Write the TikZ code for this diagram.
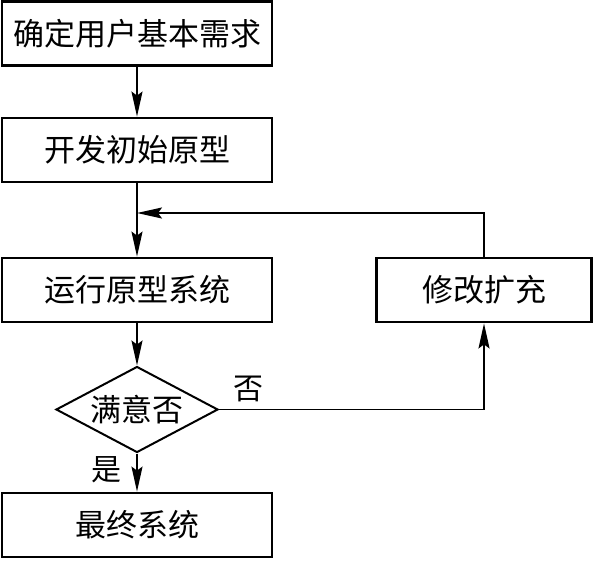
\documentclass[tikz,border=0pt]{standalone}
\usepackage{fontspec}
\setmainfont{Noto Sans CJK SC}
\usetikzlibrary{shapes.geometric,arrows.meta}
\colorlet{lineBlack}{black}

\begin{document}
\begin{tikzpicture}[x=1pt,y=-1pt,
    box/.style={draw=lineBlack, line width=2.8pt, minimum width=270pt, minimum height=64pt, inner sep=0pt, font=\fontsize{31}{32}\selectfont},
    choice/.style={diamond, draw=lineBlack, line width=2pt, aspect=1.9, minimum width=162pt, minimum height=86pt, inner sep=0pt, font=\fontsize{31}{32}\selectfont},
    link/.style={line width=1.8pt, -{Stealth[length=25pt,width=11pt,inset=4pt]}},
    lbl/.style={font=\fontsize{30}{31}\selectfont, inner sep=0pt}]
    \useasboundingbox (0,0) rectangle (593,560);
    % main column
    \node[box] (need) at (137,33.5) {确定用户基本需求};
    \node[box] (proto) at (137,150) {开发初始原型};
    \node[box] (run) at (137,290) {运行原型系统};
    \node[choice] (ok) at (137,409.5) {满意否};
    \node[box] (final) at (137,525) {最终系统};
    % feedback loop
    \node[box, minimum width=215pt] (modify) at (484,290) {修改扩充};
    \coordinate (merge) at (137,213);
    \draw[link] (need) -- (proto);
    \draw[link] (proto) -- (run);
    \draw[link] (run) -- (ok);
    \draw[link] (ok) -- (final);
    \draw[link] (ok.east) -| (modify.south);
    \draw[link] (modify.north) |- (merge);
    \node[lbl] (no) at (248,389) {否};
    \node[lbl] (yes) at (106,470) {是};
\end{tikzpicture}
\end{document}
